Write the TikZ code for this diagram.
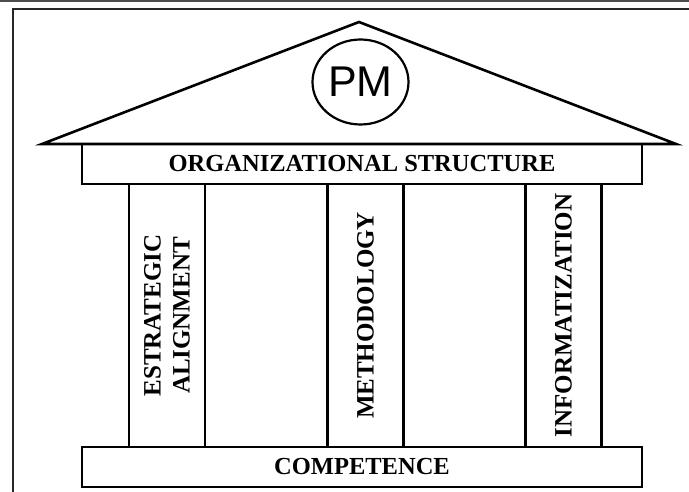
\documentclass[tikz,border=0pt]{standalone}
\usepackage{fontspec}
\setmainfont{Liberation Serif}
\newfontfamily\pmfont{Liberation Sans}
\usetikzlibrary{shapes.geometric}

\tikzset{
  beam/.style={draw, line width=2.3pt, rectangle, inner sep=0pt,
    minimum width=560pt, minimum height=40pt,
    font=\fontsize{24.5}{29}\selectfont\bfseries},
  pillar/.style={draw, line width=2.3pt, rectangle, inner sep=0pt,
    minimum width=76pt, minimum height=263pt},
  pillartext/.style={rotate=90, align=center, inner sep=0pt,
    font=\fontsize{25}{29}\selectfont\bfseries},
  roofline/.style={line width=2.6pt, line join=miter},
  seal/.style={draw, ellipse, line width=2.2pt, inner sep=0pt,
    minimum width=96pt, minimum height=85pt,
    font=\fontsize{43}{46}\selectfont\pmfont},
  frameline/.style={line width=1.6pt, draw=black!85}
}

\begin{document}
\begin{tikzpicture}[x=1pt, y=-1pt]
  \useasboundingbox (0,0) rectangle (689,492);

  % page frame
  \draw[line width=2pt, draw=black!70] (0,1) -- (689,1);
  \coordinate (frameB) at (13,492);
  \coordinate (frameC) at (13,9);
  \coordinate (frameR) at (689,9);
  \draw[frameline] (frameB) -- (frameC) -- (frameR);

  % roof
  \coordinate (roofL) at (42,144);
  \coordinate (apex) at (359,22);
  \coordinate (roofR) at (676,144);
  \draw[roofline] (roofL) -- (apex) -- (roofR) -- cycle;

  % seal in the gable
  \node[seal] (pm) at (360.5,82) {PM};

  % architrave
  \node[beam] (org) at (362,164) {ORGANIZATIONAL STRUCTURE};

  % pillars
  \node[pillar] (p1) at (167,315.5) {};
  \node[pillar] (p2) at (365.5,315.5) {};
  \node[pillar] (p3) at (563.5,315.5) {};
  \node[pillartext] (t1) at (p1.center) {ESTRATEGIC\\ALIGNMENT};
  \node[pillartext] (t2) at (p2.center) {METHODOLOGY};
  \node[pillartext] (t3) at (p3.center) {INFORMATIZATION};

  % base
  \node[beam] (comp) at (362,467) {COMPETENCE};
\end{tikzpicture}
\end{document}
